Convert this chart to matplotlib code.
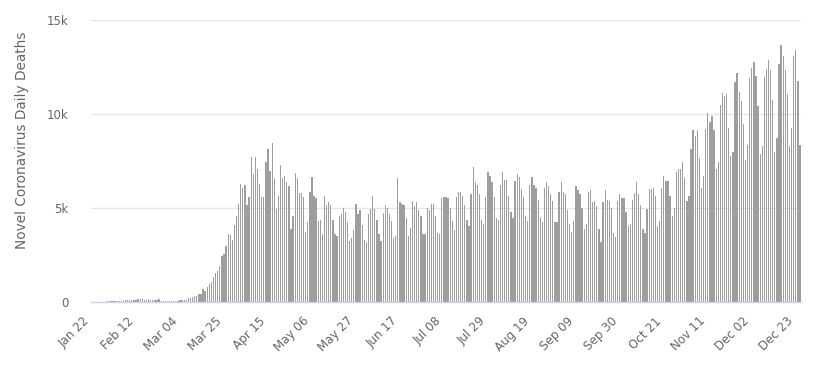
import numpy as np
import pandas as pd
import matplotlib
matplotlib.use('Agg')
import matplotlib.pyplot as plt
from matplotlib.ticker import FixedLocator, FuncFormatter

# Daily deaths, Jan 22 - Dec 25 2020
JAN = [0, 1, 8, 16, 14, 26, 26, 38, 43, 46]
FEB = [45, 57, 64, 66, 73, 73, 86, 89, 97, 108,
       97, 121, 150, 143, 142, 106, 98, 139, 115, 125,
       111, 98, 150, 71, 64, 37, 58, 64, 70]
MAR = [55, 65, 77, 95, 102, 104, 100, 229, 206, 275,
       323, 342, 437, 409, 705, 600, 800, 950, 1050, 1350,
       1550, 1650, 1900, 2450, 2550, 3000, 3600, 3550, 3300, 4100, 4600]
APR = [5200, 6300, 6070, 6200, 5160, 5600, 7700, 6800, 7700, 7100,
       6300, 5600, 5600, 7460, 8140, 6970, 8440, 6580, 4950, 5650,
       7290, 6580, 6720, 6360, 6170, 3880, 4590, 6860, 6580, 5800]
MAY = [5800, 5580, 3740, 4240, 5870, 6630, 5640, 5510, 4310, 4380,
       3600, 5650, 5160, 5300, 5160, 4380, 3600, 3530, 4590, 4660,
       5020, 4800, 4240, 3250, 3390, 3810, 5230, 4660, 4880, 4100, 3320]
JUN = [3180, 4660, 4950, 5650, 4950, 4380, 3600, 3250, 4730, 5160,
       5020, 4660, 4310, 3390, 3530, 6580, 5300, 5230, 5160, 4450,
       3530, 3950, 5370, 5090, 5300, 4880, 4590, 3600, 3600, 5020]
JUL = [4880, 5230, 5230, 4590, 3670, 3600, 5510, 5580, 5580, 5510,
       5020, 4310, 3810, 5580, 5870, 5870, 5650, 5160, 4380, 4030,
       5720, 7200, 6360, 6220, 5720, 4380, 4170, 5580, 6930, 6720, 6360]
AUG = [5580, 4450, 4380, 6220, 6930, 6500, 6500, 5650, 4800, 4450,
       6430, 6790, 6650, 6000, 5580, 4590, 4310, 6220, 6650, 6220,
       6080, 5440, 4520, 4240, 6080, 6360, 6150, 5720, 5370, 4240, 4240]
SEP = [5870, 6360, 5870, 5720, 4880, 4170, 3740, 4310, 6150, 5940,
       5720, 5020, 3880, 4170, 5870, 5940, 5300, 5370, 5090, 3880,
       3180, 5300, 5940, 5440, 5370, 5020, 3670, 3460, 5370, 5730]
OCT = [5510, 5510, 4800, 4030, 4170, 5440, 5800, 6360, 5730, 5160,
       3880, 3670, 4950, 6010, 6010, 6080, 5660, 4030, 4310, 6080,
       6720, 6430, 6430, 5660, 4590, 5020, 6930, 7070, 7070, 7430, 6580]
NOV = [5370, 5660, 8140, 9130, 8850, 9130, 7640, 6080, 6720, 9200,
       10050, 9560, 9910, 9130, 7070, 7430, 10480, 11120, 10980, 11050,
       9270, 7780, 7990, 11680, 12180, 11190, 10690, 9490, 7570, 8350]
DEC = [11900, 12470, 12750, 12040, 10410, 7850, 8280, 11970, 12400, 12890,
       12330, 10760, 7990, 8700, 12680, 13670, 13100, 12330, 11050, 8280,
       9270, 13100, 13390, 11750, 8350]

deaths = JAN + FEB + MAR + APR + MAY + JUN + JUL + AUG + SEP + OCT + NOV + DEC
dates = pd.date_range('2020-01-22', periods=len(deaths), freq='D')
labels = [d.strftime('%b %d') for d in dates]

TEXT = '#666666'

fig = plt.figure(figsize=(8.13, 3.68), dpi=100)
ax = fig.add_axes([91 / 813, 1 - 302 / 368, 710 / 813, 282 / 368])

x = np.arange(len(deaths))
ax.bar(x, deaths, width=0.62, color='#9e9e9e', edgecolor='none', zorder=3)

ax.set_xlim(-0.5, len(deaths) - 0.5)
ax.set_ylim(0, 15000)

# y axis
ax.yaxis.set_major_locator(FixedLocator([0, 5000, 10000, 15000]))
ax.yaxis.set_major_formatter(FuncFormatter(
    lambda v, p: '0' if v == 0 else f'{int(v / 1000)}k'))
ax.grid(axis='y', color='#e6e6e6', linewidth=1, zorder=0)
ax.tick_params(axis='y', length=0, pad=16, labelsize=8.5, labelcolor=TEXT)

# x axis: every 21st category
ticks = list(range(0, len(deaths), 21))
ax.set_xticks(ticks)
ax.set_xticklabels([labels[t] for t in ticks], rotation=45, ha='right',
                   rotation_mode='default')
ax.tick_params(axis='x', length=0, pad=9, labelsize=8.6, labelcolor=TEXT)

for s in ['top', 'right', 'left']:
    ax.spines[s].set_visible(False)
ax.spines['bottom'].set_color('#ccd6eb')
ax.spines['bottom'].set_linewidth(1)
ax.spines['bottom'].set_zorder(4)

fig.text(22 / 813, 1 - 140 / 368, 'Novel Coronavirus Daily Deaths',
         rotation=90, ha='center', va='center', fontsize=9.8, color=TEXT)

fig.savefig('out.png', dpi=100)
